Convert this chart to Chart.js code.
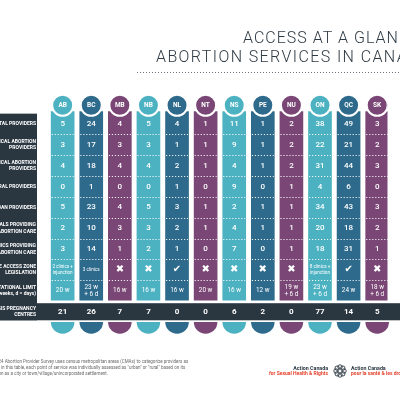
<!DOCTYPE html>
<html>
<head>
<meta charset="utf-8">
<style>
  html, body { margin: 0; padding: 0; background: #fff; }
  canvas { display: block; }
</style>
</head>
<body>
<canvas id="myChart" width="400" height="400"></canvas>
<script src="https://cdn.jsdelivr.net/npm/chart.js@4/dist/chart.umd.min.js"></script>
<script>
// --- data ---
var provinces = ['AB', 'BC', 'MB', 'NB', 'NL', 'NT', 'NS', 'PE', 'NU', 'ON', 'QC', 'SK'];
var rowLabels = [
  ['TOTAL PROVIDERS'],
  ['SURGICAL ABORTION', 'PROVIDERS'],
  ['MEDICAL ABORTION', 'PROVIDERS'],
  ['RURAL PROVIDERS'],
  ['URBAN PROVIDERS'],
  ['HOSPITALS PROVIDING', 'ABORTION CARE'],
  ['CLINICS PROVIDING', 'ABORTION CARE'],
  ['SAFE ACCESS ZONE', 'LEGISLATION'],
  ['GESTATIONAL LIMIT', '(w = weeks, d = days)'],
  ['CRISIS PREGNANCY', 'CENTRES']
];
var totalProviders   = [5, 24, 4, 5, 4, 1, 11, 1, 2, 38, 49, 3];
var surgicalProviders = [3, 17, 3, 3, 1, 1, 9, 1, 2, 22, 21, 2];
var medicalProviders = [4, 18, 4, 4, 2, 1, 4, 1, 2, 31, 44, 3];
var ruralProviders   = [0, 1, 0, 0, 1, 0, 9, 0, 1, 4, 6, 0];
var urbanProviders   = [5, 23, 4, 5, 3, 1, 2, 1, 1, 34, 43, 3];
var hospitals        = [2, 10, 3, 3, 2, 1, 4, 1, 1, 20, 18, 2];
var clinics          = [3, 14, 1, 2, 1, 0, 7, 0, 1, 18, 31, 1];
var accessZone = ['2 clinics +\ninjunction', '3 clinics', 'no', 'no', 'yes', 'no', 'no', 'no', 'no',
                  '8 clinics +\ninjunction', 'yes', 'no'];
var gestLimit = ['20 w', '23 w\n+ 6 d', '16 w', '16 w', '16 w', '20 w', '16 w', '12 w',
                 '19 w\n+ 6 d', '23 w\n+ 6 d', '24 w', '18 w\n+ 6 d'];
var crisisCentres = [21, 26, 7, 7, 0, 0, 6, 2, 0, 77, 14, 5];

var tableRows = [totalProviders, surgicalProviders, medicalProviders, ruralProviders,
                 urbanProviders, hospitals, clinics, accessZone, gestLimit];

// --- look ---
var TEAL = '#4cb2c2', BLUE = '#2d6a8c', PURPLE = '#7a4675', DARK = '#2a3640';
var colColors = provinces.map(function (p, i) { return [TEAL, BLUE, PURPLE][i % 3]; });

// row axis: row i centred on value i; column axis: province i on value i
var COL_TOP = -0.6, COL_BOTTOM = 8.46, CIRCLE_ROW = -0.9, CAP_ROW = 9.5;

var decor = {
  id: 'decor',
  beforeDatasetsDraw: function (chart) {
    var c = chart.ctx, xs = chart.scales.x, ys = chart.scales.y;
    c.save();
    c.fillStyle = DARK;
    var top = ys.getPixelForValue(-0.5), bandTop = ys.getPixelForValue(8.6), bandBot = ys.getPixelForValue(9.42);
    c.fillRect(0, top, 37, bandBot - top);
    c.fillRect(0, bandTop, 400, bandBot - bandTop);
    // caps under the band
    provinces.forEach(function (p, i) {
      c.fillStyle = colColors[i];
      c.beginPath();
      c.arc(xs.getPixelForValue(i), ys.getPixelForValue(CAP_ROW), 11.8, 0, Math.PI);
      c.fill();
    });
    c.restore();
  },
  afterDatasetsDraw: function (chart) {
    var c = chart.ctx, xs = chart.scales.x, ys = chart.scales.y;
    c.save();
    // dotted row separators
    c.strokeStyle = 'rgba(255,255,255,0.9)';
    c.lineWidth = 1.2;
    c.setLineDash([1.2, 1.8]);
    provinces.forEach(function (p, i) {
      var cx = xs.getPixelForValue(i);
      for (var r = 0; r < 8; r++) {
        var y = Math.round(ys.getPixelForValue(r + 0.5)) + 0.5;
        c.beginPath(); c.moveTo(cx - 11, y); c.lineTo(cx + 11, y); c.stroke();
      }
    });
    c.setLineDash([]);

    // province codes
    c.fillStyle = '#fff';
    c.textAlign = 'center';
    c.textBaseline = 'middle';
    c.font = 'bold 6.5px Roboto';
    provinces.forEach(function (p, i) {
      c.fillText(p, xs.getPixelForValue(i), ys.getPixelForValue(CIRCLE_ROW) + 0.5);
    });

    // cell values
    tableRows.forEach(function (row, r) {
      row.forEach(function (v, i) {
        var cx = xs.getPixelForValue(i), cy = ys.getPixelForValue(r);
        if (v === 'yes' || v === 'no') {
          c.font = 'bold 10px "DejaVu Sans"';
          c.fillText(v === 'yes' ? '\u2714' : '\u2716', cx, cy);
          return;
        }
        var lines = String(v).split('\n');
        if (typeof v === 'number') c.font = '500 8px Roboto';
        else if (r === 7) c.font = '4.6px Roboto';
        else c.font = '6.4px Roboto';
        var lh = r === 7 ? 5.5 : 7.5;
        lines.forEach(function (s, k) {
          c.fillText(s, cx, cy + (k - (lines.length - 1) / 2) * lh);
        });
      });
    });
    c.font = 'bold 8px Roboto';
    crisisCentres.forEach(function (v, i) {
      c.fillText(String(v), xs.getPixelForValue(i), ys.getPixelForValue(9));
    });

    // row labels, cut by the left edge like the source
    c.textAlign = 'right';
    c.font = 'bold 5px Roboto';
    rowLabels.forEach(function (lab, r) {
      var cy = ys.getPixelForValue(r);
      lab.forEach(function (s, k) {
        c.fillText(s, 36, cy + (k - (lab.length - 1) / 2) * 6.4);
      });
    });

    // title
    c.textAlign = 'left';
    c.textBaseline = 'alphabetic';
    c.fillStyle = '#2e3a44';
    c.font = '300 16px Roboto';
    c.letterSpacing = '1px';
    c.fillText('ACCESS AT A GLANCE:', 243, 43);
    c.letterSpacing = '1.4px';
    c.fillText('ABORTION SERVICES IN CANADA', 156, 62);
    c.letterSpacing = '0px';
    c.strokeStyle = '#6b747c';
    c.lineWidth = 1;
    c.setLineDash([1, 2]);
    c.beginPath(); c.moveTo(137, 72.5); c.lineTo(400, 72.5); c.stroke();
    c.setLineDash([]);

    // footnote
    c.fillStyle = '#6a6a6a';
    c.font = '4.5px Roboto';
    var notes = [
      ['The 202', '4 Abortion Provider Survey uses census metropolitan areas (CMAs) to categorize providers as'],
      ['urban or rural; ', 'in this table, each point of service was individually assessed as "urban" or "rural" based on its'],
      ['designatio', 'n as a city or town/village/unincorporated settlement.']
    ];
    notes.forEach(function (n, k) {
      var x0 = 1 - c.measureText(n[0]).width;
      c.fillText(n[0] + n[1], x0, 363 + k * 6);
    });

    // logo
    c.textAlign = 'right';
    c.fillStyle = DARK;
    c.font = 'bold 5.3px Roboto';
    c.fillText('Action Canada', 328, 369.5);
    c.fillStyle = '#e5432d';
    c.font = 'bold 5px Roboto';
    c.fillText('for Sexual Health & Rights', 328, 374.5);
    c.textAlign = 'left';
    c.fillStyle = DARK;
    c.font = 'bold 5.3px Roboto';
    c.fillText('Action Canada', 351, 369.5);
    c.fillStyle = '#e5432d';
    c.font = 'bold 5px Roboto';
    c.fillText('pour la sant\u00e9 & les droits sexuels', 351, 374.5);
    c.strokeStyle = DARK;
    c.lineWidth = 0.9;
    for (var a = 0; a < 8; a++) {
      var ang = a * Math.PI / 4;
      c.beginPath();
      c.arc(340 + Math.cos(ang) * 4, 371 + Math.sin(ang) * 4, 2.2, 0, Math.PI * 2);
      c.stroke();
    }
    c.restore();
  }
};

var ctx = document.getElementById('myChart').getContext('2d');
var myChart = new Chart(ctx, {
  type: 'bar',
  data: {
    datasets: [{
      type: 'scatter',
      label: 'codes',
      data: provinces.map(function (p, i) { return { x: i, y: CIRCLE_ROW }; }),
      backgroundColor: colColors,
      borderColor: '#fff',
      borderWidth: 2,
      pointRadius: 10.5,
      order: 1
    }, {
      label: 'columns',
      data: provinces.map(function (p, i) { return { x: i, y: [COL_TOP, COL_BOTTOM] }; }),
      backgroundColor: colColors,
      borderWidth: 0,
      barThickness: 23,
      order: 2
    }]
  },
  options: {
    responsive: false,
    animation: false,
    layout: { padding: 0 },
    plugins: { legend: { display: false }, tooltip: { enabled: false } },
    scales: {
      x: { type: 'linear', display: false, offset: false, min: -53.5 / 30.5, max: (400 - 53.5) / 30.5 },
      y: { type: 'linear', display: false, reverse: true, min: -119 / 22.22, max: (400 - 119) / 22.22 }
    }
  },
  plugins: [decor]
});
</script>
</body>
</html>
